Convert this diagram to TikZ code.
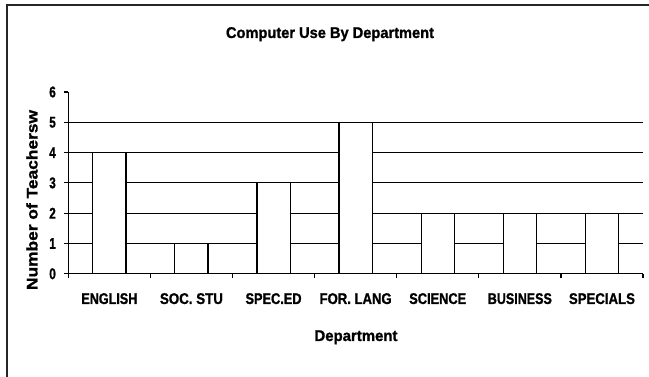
\documentclass[tikz,border=0pt]{standalone}
\usepackage{fontspec}
\setmainfont{Liberation Sans}[BoldFeatures={FakeBold=1.2}]
\usepackage{graphicx}
\newcommand\fitw[2]{\resizebox{#1pt}{\height}{#2}}
\begin{document}
\begin{tikzpicture}[x=1pt,y=-1pt,
  gridline/.style={black, line width=1.2pt},
  barbox/.style={draw=black, fill=white, line width=1.2pt},
  axisline/.style={black, line width=1.2pt},
  lab/.style={font=\fontsize{15.5}{15.5}\selectfont\bfseries, inner sep=0pt},
]
\useasboundingbox (0,0) rectangle (649,377);
\fill[white] (0,0) rectangle (649,377);
% frame
\draw[line width=1.5pt, black!85] (7,377) -- (7,5) -- (649,5);
% gridlines
\foreach \v in {1,...,5} {
  \draw[gridline] (68.3,{273.8-30.3*\v}) -- (643,{273.8-30.3*\v});
}
% bars
\foreach \i/\v in {0/4,1/1,2/3,3/5,4/2,5/2,6/2} {
  \pgfmathsetmacro\cx{68.3+82.1*(\i+0.5)}
  \draw[barbox] ({\cx-16.6},273.8) rectangle ({\cx+16.6},{273.8-30.3*\v});
}
% axes
\draw[axisline] (68.3,92.0) -- (68.3,273.8) -- (643,273.8);
\foreach \v in {0,...,6} {
  \draw[axisline] (63.5,{273.8-30.3*\v}) -- (68.3,{273.8-30.3*\v});
  \node[lab, anchor=east] (y\v) at (56,{273.8-30.3*\v}) {\fitw{6.5}{\v}};
}
\foreach \i in {0,...,7} {
  \draw[axisline] ({68.3+82.1*\i},273.8) -- ({68.3+82.1*\i},278.3);
}
% category labels
\foreach \i/\t/\w in {0/ENGLISH/56,1/SOC. STU/63,2/SPEC.ED/56,3/FOR. LANG/72,4/SCIENCE/57,5/BUSINESS/64,6/SPECIALS/66} {
  \node[lab, anchor=base] (c\i) at ({68.3+82.1*(\i+0.5)},304) {\fitw{\w}{\t}};
}
% titles
\node[lab, anchor=base] (title) at (330,38) {\fitw{208}{Computer Use By Department}};
\node[lab, anchor=base] (xtitle) at (356,341) {\fitw{83}{Department}};
\node[lab, rotate=90, anchor=base] (ytitle) at (37.5,200) {\fitw{180}{Number of Teachersw}};
\end{tikzpicture}
\end{document}
